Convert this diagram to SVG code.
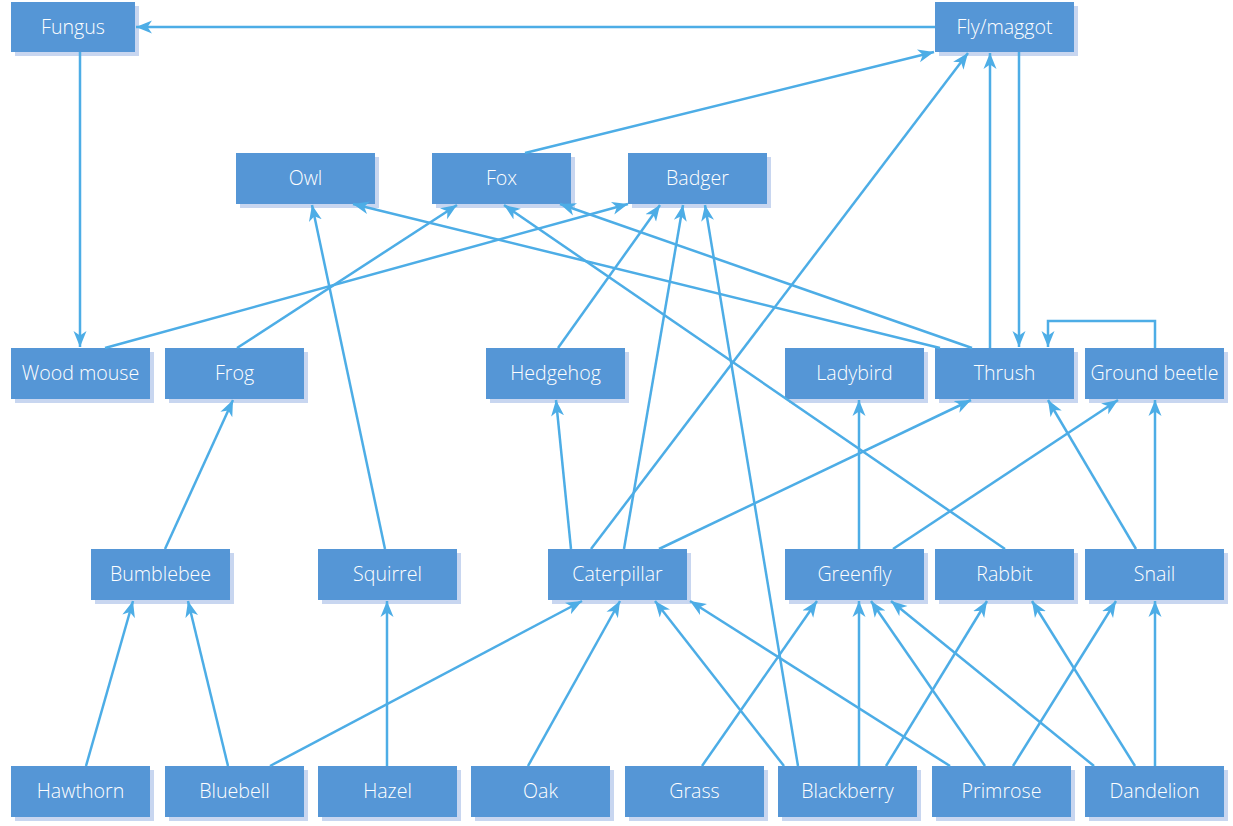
<svg xmlns="http://www.w3.org/2000/svg" width="1233" height="826" viewBox="0 0 1233 826">
<style>
.sh{fill:#c8d6f0}
.bx{fill:#5596d6}
.t{fill:#ffffff;font-family:"Open Sans","Noto Sans","Liberation Sans",sans-serif;font-size:19.6px;font-weight:300;text-anchor:middle;dominant-baseline:central}
.e{fill:none;stroke:#4dade6;stroke-width:2.5;marker-end:url(#ah)}
</style>
<defs>
<marker id="ah" markerUnits="userSpaceOnUse" markerWidth="17" markerHeight="14" refX="16" refY="7" orient="auto">
<path d="M0,0.5 L16,7 L0,13.5 L4.5,7 Z" fill="#4dade6"/>
</marker>
</defs>
<rect width="1233" height="826" fill="#ffffff"/>
<g id="nodes">
<g id="n-fungus"><rect class="sh" x="15" y="6" width="124" height="50"/><rect class="bx" x="11" y="2" width="124" height="50"/><text class="t" x="73" y="26">Fungus</text></g>
<g id="n-fly"><rect class="sh" x="939" y="6" width="139" height="50"/><rect class="bx" x="935" y="2" width="139" height="50"/><text class="t" x="1004.5" y="26">Fly/maggot</text></g>
<g id="n-owl"><rect class="sh" x="240" y="157" width="139" height="51"/><rect class="bx" x="236" y="153" width="139" height="51"/><text class="t" x="305.5" y="177">Owl</text></g>
<g id="n-fox"><rect class="sh" x="436" y="157" width="139" height="51"/><rect class="bx" x="432" y="153" width="139" height="51"/><text class="t" x="501.5" y="177">Fox</text></g>
<g id="n-badger"><rect class="sh" x="632" y="157" width="139" height="51"/><rect class="bx" x="628" y="153" width="139" height="51"/><text class="t" x="697.5" y="177">Badger</text></g>
<g id="n-woodmouse"><rect class="sh" x="15" y="352" width="139" height="51"/><rect class="bx" x="11" y="348" width="139" height="51"/><text class="t" x="80.5" y="372">Wood mouse</text></g>
<g id="n-frog"><rect class="sh" x="169" y="352" width="139" height="51"/><rect class="bx" x="165" y="348" width="139" height="51"/><text class="t" x="234.5" y="372">Frog</text></g>
<g id="n-hedgehog"><rect class="sh" x="490" y="352" width="139" height="51"/><rect class="bx" x="486" y="348" width="139" height="51"/><text class="t" x="555.5" y="372">Hedgehog</text></g>
<g id="n-ladybird"><rect class="sh" x="789" y="352" width="139" height="51"/><rect class="bx" x="785" y="348" width="139" height="51"/><text class="t" x="854.5" y="372">Ladybird</text></g>
<g id="n-thrush"><rect class="sh" x="939" y="352" width="139" height="51"/><rect class="bx" x="935" y="348" width="139" height="51"/><text class="t" x="1004.5" y="372">Thrush</text></g>
<g id="n-groundbeetle"><rect class="sh" x="1089" y="352" width="139" height="51"/><rect class="bx" x="1085" y="348" width="139" height="51"/><text class="t" x="1154.5" y="372">Ground beetle</text></g>
<g id="n-bumblebee"><rect class="sh" x="95" y="553" width="139" height="51"/><rect class="bx" x="91" y="549" width="139" height="51"/><text class="t" x="160.5" y="573">Bumblebee</text></g>
<g id="n-squirrel"><rect class="sh" x="322" y="553" width="139" height="51"/><rect class="bx" x="318" y="549" width="139" height="51"/><text class="t" x="387.5" y="573">Squirrel</text></g>
<g id="n-caterpillar"><rect class="sh" x="552" y="553" width="139" height="51"/><rect class="bx" x="548" y="549" width="139" height="51"/><text class="t" x="617.5" y="573">Caterpillar</text></g>
<g id="n-greenfly"><rect class="sh" x="789" y="553" width="139" height="51"/><rect class="bx" x="785" y="549" width="139" height="51"/><text class="t" x="854.5" y="573">Greenfly</text></g>
<g id="n-rabbit"><rect class="sh" x="939" y="553" width="139" height="51"/><rect class="bx" x="935" y="549" width="139" height="51"/><text class="t" x="1004.5" y="573">Rabbit</text></g>
<g id="n-snail"><rect class="sh" x="1089" y="553" width="139" height="51"/><rect class="bx" x="1085" y="549" width="139" height="51"/><text class="t" x="1154.5" y="573">Snail</text></g>
<g id="n-hawthorn"><rect class="sh" x="15" y="770" width="139" height="51"/><rect class="bx" x="11" y="766" width="139" height="51"/><text class="t" x="80.5" y="790">Hawthorn</text></g>
<g id="n-bluebell"><rect class="sh" x="169" y="770" width="139" height="51"/><rect class="bx" x="165" y="766" width="139" height="51"/><text class="t" x="234.5" y="790">Bluebell</text></g>
<g id="n-hazel"><rect class="sh" x="322" y="770" width="139" height="51"/><rect class="bx" x="318" y="766" width="139" height="51"/><text class="t" x="387.5" y="790">Hazel</text></g>
<g id="n-oak"><rect class="sh" x="475" y="770" width="139" height="51"/><rect class="bx" x="471" y="766" width="139" height="51"/><text class="t" x="540.5" y="790">Oak</text></g>
<g id="n-grass"><rect class="sh" x="629" y="770" width="139" height="51"/><rect class="bx" x="625" y="766" width="139" height="51"/><text class="t" x="694.5" y="790">Grass</text></g>
<g id="n-blackberry"><rect class="sh" x="782" y="770" width="139" height="51"/><rect class="bx" x="778" y="766" width="139" height="51"/><text class="t" x="847.5" y="790">Blackberry</text></g>
<g id="n-primrose"><rect class="sh" x="936" y="770" width="139" height="51"/><rect class="bx" x="932" y="766" width="139" height="51"/><text class="t" x="1001.5" y="790">Primrose</text></g>
<g id="n-dandelion"><rect class="sh" x="1089" y="770" width="139" height="51"/><rect class="bx" x="1085" y="766" width="139" height="51"/><text class="t" x="1154.5" y="790">Dandelion</text></g>
</g>
<g id="connectors">
<path class="e" d="M935,27 L136,27"/>
<path class="e" d="M80,52 L80,347"/>
<path class="e" d="M525,153 L934,52"/>
<path class="e" d="M591,549 L968,53"/>
<path class="e" d="M990,348 L990,53"/>
<path class="e" d="M1019,52 L1019,347"/>
<path class="e" d="M1155,348 L1155,321 L1048,321 L1048,347"/>
<path class="e" d="M940,348 L353,204"/>
<path class="e" d="M972,348 L560,204"/>
<path class="e" d="M105,348 L628,204"/>
<path class="e" d="M237,348 L457,205"/>
<path class="e" d="M385,549 L312,205"/>
<path class="e" d="M1005,549 L504,205"/>
<path class="e" d="M558,348 L660,205"/>
<path class="e" d="M624,549 L683,205"/>
<path class="e" d="M798,766 L705,205"/>
<path class="e" d="M165,549 L233,400"/>
<path class="e" d="M571,549 L556,400"/>
<path class="e" d="M659,549 L971,400"/>
<path class="e" d="M859,549 L859,400"/>
<path class="e" d="M893,549 L1118,400"/>
<path class="e" d="M1136,549 L1048,400"/>
<path class="e" d="M1155,549 L1155,400"/>
<path class="e" d="M86,766 L133,601"/>
<path class="e" d="M228,766 L188,601"/>
<path class="e" d="M270,766 L582,601"/>
<path class="e" d="M387,766 L387,601"/>
<path class="e" d="M528,766 L620,601"/>
<path class="e" d="M784,766 L655,601"/>
<path class="e" d="M950,766 L690,601"/>
<path class="e" d="M702,766 L817,601"/>
<path class="e" d="M859,766 L859,601"/>
<path class="e" d="M886,766 L987,601"/>
<path class="e" d="M985,766 L871,601"/>
<path class="e" d="M1013,766 L1116,601"/>
<path class="e" d="M1094,766 L891,601"/>
<path class="e" d="M1135,766 L1032,601"/>
<path class="e" d="M1155,766 L1155,601"/>
</g>
</svg>
